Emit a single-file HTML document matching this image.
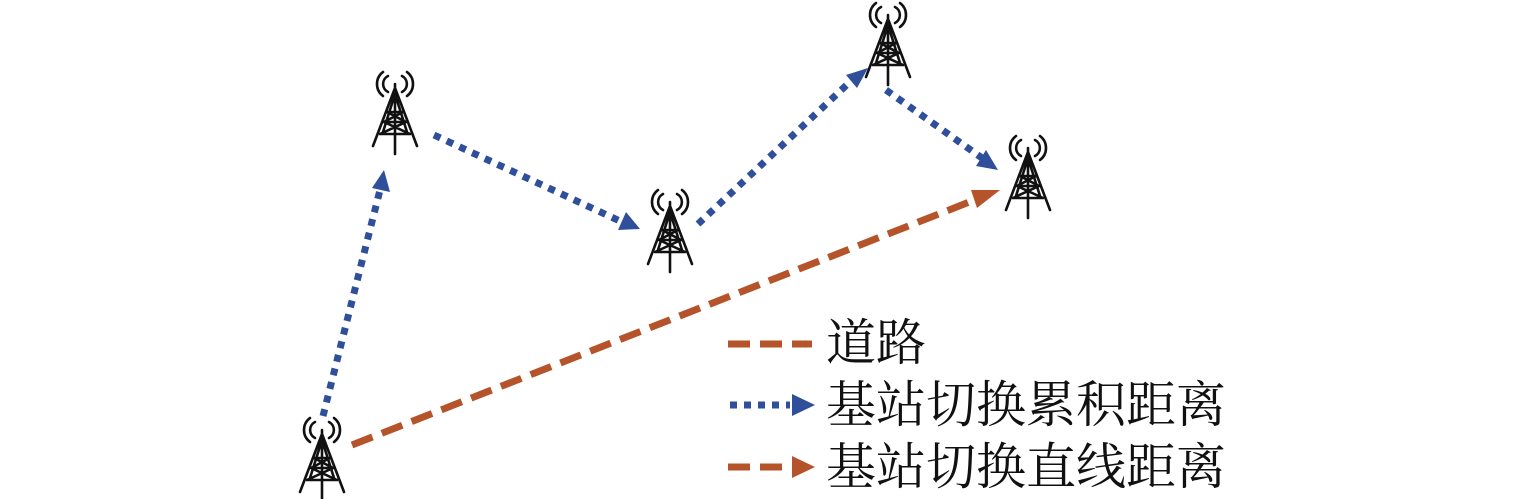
<!DOCTYPE html>
<html><head><meta charset="utf-8"><style>
body{margin:0;background:#fff;width:1535px;height:499px;overflow:hidden;position:relative}
.t{position:absolute;left:826px;font-family:"Liberation Serif","Noto Serif CJK SC",serif;font-size:50px;color:#111;line-height:1}
</style></head><body>
<svg width="1535" height="499" style="position:absolute;left:0;top:0">
<defs>
<g id="tw" fill="none" stroke="#111" stroke-width="2.6" stroke-linecap="round">
<path d="M-7,4 A9,9 0 0 0 -7,20 M7,4 A9,9 0 0 1 7,20 M-12,0 A15,15 0 0 0 -12,24 M12,0 A15,15 0 0 1 12,24"/>
<path d="M0,12 L0,82 M0,16 L-22,74 M0,16 L22,74 M0,22 L-12,60 M0,22 L12,60"/>
<path d="M-8,40 L8,40 M-11,50 L11,50 M-15,62 L15,62 M-8,40 L11,50 M8,40 L-11,50 M-11,50 L15,62 M11,50 L-15,62"/>
</g>
</defs>
<use href="#tw" x="322" y="418"/>
<use href="#tw" x="395" y="72"/>
<use href="#tw" x="670" y="190"/>
<use href="#tw" x="888" y="3"/>
<use href="#tw" x="1028" y="136"/>
<g stroke="#2f4f9a" stroke-width="7" stroke-dasharray="7,7" fill="none">
<path d="M323,416 L380,190"/>
<path d="M434,135 L622,222"/>
<path d="M698,224 L852,80"/>
<path d="M886,90 L982,158"/>
<path d="M730,405 L790,405"/>
</g>
<g fill="#2f4f9a">
<path d="M384,170 L390,192 L372,188z"/>
<path d="M640,229 L618,230 L626,212z"/>
<path d="M868,68 L857,88 L846,75z"/>
<path d="M998,170 L976,166 L986,150z"/>
<path d="M815,405 L792,394 L792,416z"/>
</g>
<g stroke="#b5532a" stroke-width="7" stroke-dasharray="22,10" fill="none">
<path d="M352,445 L982,197"/>
<path d="M728,344 L812,344"/>
<path d="M728,467 L792,467"/>
</g>
<g fill="#b5532a">
<path d="M1000,190 L977,208 L971,190z"/>
<path d="M815,467 L792,456 L792,478z"/>
</g>
</svg>
<div class="t" style="top:318px">道路</div>
<div class="t" style="top:380px">基站切换累积距离</div>
<div class="t" style="top:442px">基站切换直线距离</div>
</body></html>
